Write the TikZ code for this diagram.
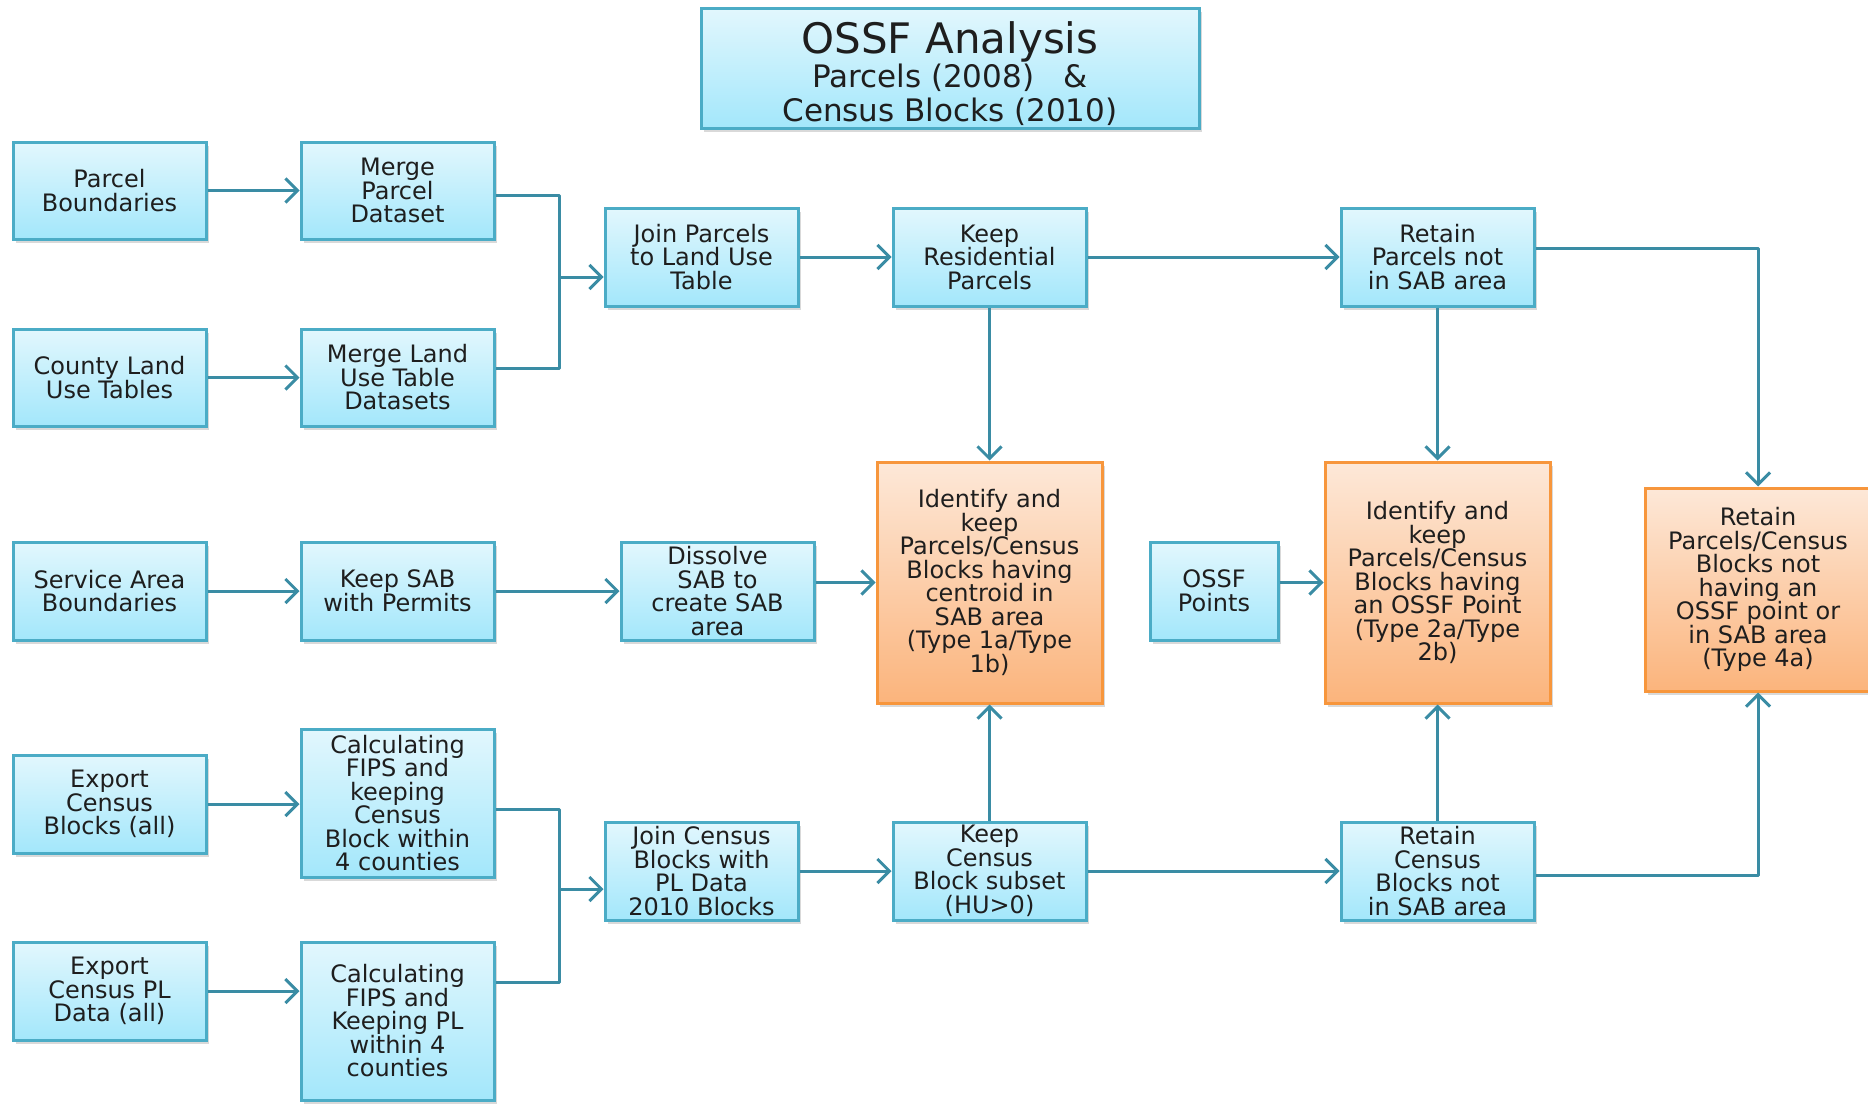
\documentclass[tikz,border=0pt]{standalone}
\usepackage{fontspec}
\setmainfont{DejaVu Sans}
\usetikzlibrary{arrows.meta,shadows}
\definecolor{bluetop}{HTML}{E2F7FD}
\definecolor{bluebot}{HTML}{A3E7FB}
\definecolor{blueline}{HTML}{4BACC6}
\definecolor{orgtop}{HTML}{FDE8D8}
\definecolor{orgbot}{HTML}{FBB47C}
\definecolor{orgline}{HTML}{F7963C}
\definecolor{conncol}{HTML}{3A8CA4}
\definecolor{txt}{HTML}{1E1E1E}
\begin{document}
\begin{tikzpicture}[x=1pt,y=-1pt,
 box/.style={rectangle, line width=3pt, inner sep=0pt, align=center, text=txt,
   font=\fontsize{24}{23.5}\selectfont,
   drop shadow={opacity=0.3, shadow xshift=3pt, shadow yshift=-4pt}},
 bluebox/.style={box, draw=blueline, top color=bluetop, bottom color=bluebot},
 orgbox/.style={box, draw=orgline, top color=orgtop, bottom color=orgbot},
 std/.style={minimum width=193pt, minimum height=97pt},
 conn/.style={draw=conncol, line width=3pt, line join=round},
 arr/.style={conn, -{Straight Barb[length=12pt,width=24pt]}},
 ]
\useasboundingbox (0,0) rectangle (1868,1103);

% title
\node[bluebox, minimum width=498pt, minimum height=120pt,
      font=\fontsize{31}{34}\selectfont] (title) at (950,68)
  {\rule{0pt}{44pt}{\fontsize{42}{42}\selectfont OSSF Analysis}\\Parcels (2008) \ \ \&\\Census Blocks (2010)};

% row 1
\node[bluebox, std] (pb) at (109.5,190.5) {Parcel\\Boundaries};
\node[bluebox, std] (mpd) at (397.5,190.5) {Merge\\Parcel\\Dataset};
\node[bluebox, std] (clut) at (109.5,377.5) {County Land\\Use Tables};
\node[bluebox, std] (mlut) at (397.5,377.5) {Merge Land\\Use Table\\Datasets};
\node[bluebox, std, minimum height=98pt] (jp) at (701.5,257) {Join Parcels\\to Land Use\\Table};
\node[bluebox, std, minimum height=98pt] (kr) at (989.5,257) {Keep\\Residential\\Parcels};
\node[bluebox, std, minimum height=98pt] (rp) at (1437.5,257) {Retain\\Parcels not\\in SAB area};

% middle row
\node[bluebox, std, minimum height=98pt] (sab) at (109.5,591) {Service Area\\Boundaries};
\node[bluebox, std, minimum height=98pt] (ksab) at (397.5,591) {Keep SAB\\with Permits};
\node[bluebox, std, minimum height=98pt] (dis) at (717.5,591) {Dissolve\\SAB to\\create SAB\\area};
\node[orgbox, minimum width=225pt, minimum height=241pt] (id1) at (989.5,582.5)
  {Identify and\\keep\\Parcels/Census\\Blocks having\\centroid in\\SAB area\\(Type 1a/Type\\1b)};
\node[bluebox, minimum width=128pt, minimum height=98pt] (ossf) at (1214,591) {OSSF\\Points};
\node[orgbox, minimum width=225pt, minimum height=241pt] (id2) at (1437.5,582.5)
  {Identify and\\keep\\Parcels/Census\\Blocks having\\an OSSF Point\\(Type 2a/Type\\2b)};
\node[orgbox, minimum width=226pt, minimum height=203pt] (r4) at (1758,589.5)
  {Retain\\Parcels/Census\\Blocks not\\having an\\OSSF point or\\in SAB area\\(Type 4a)};

% bottom rows
\node[bluebox, std, minimum height=98pt] (ec) at (109.5,804) {Export\\Census\\Blocks (all)};
\node[bluebox, minimum width=193pt, minimum height=148pt] (cf1) at (397.5,803)
  {Calculating\\FIPS and\\keeping\\Census\\Block within\\4 counties};
\node[bluebox, std, minimum height=98pt] (epl) at (109.5,991) {Export\\Census PL\\Data (all)};
\node[bluebox, minimum width=193pt, minimum height=158pt] (cf2) at (397.5,1021)
  {Calculating\\FIPS and\\Keeping PL\\within 4\\counties};
\node[bluebox, std, minimum height=98pt] (jc) at (701.5,871) {Join Census\\Blocks with\\PL Data\\2010 Blocks};
\node[bluebox, std, minimum height=98pt] (kc) at (989.5,871) {Keep\\Census\\Block subset\\(HU>0)};
\node[bluebox, std, minimum height=98pt] (rc) at (1437.5,871) {Retain\\Census\\Blocks not\\in SAB area};

% junction coordinates
\coordinate (j1) at (559,277);
\coordinate (j2) at (559,889);

% connectors
\draw[arr] (pb) -- (mpd);
\draw[arr] (clut) -- (mlut);
\draw[conn] ([yshift=-4.5pt]mpd.east) -| (j1) |- ([yshift=9.5pt]mlut.east);
\draw[arr] (j1) -- (jp.west |- j1);
\draw[arr] (jp) -- (kr);
\draw[arr] (kr) -- (rp);
\draw[arr] ([yshift=9pt]rp.east) -| (r4.north);
\draw[arr] (kr) -- (id1);
\draw[arr] (rp) -- (id2);

\draw[arr] (sab) -- (ksab);
\draw[arr] (ksab) -- (dis);
\draw[arr] (dis.east |- id1.west) -- (id1.west);
\draw[arr] (ossf.east |- id2.west) -- (id2.west);

\draw[arr] (ec.east) -- (cf1.west |- ec.east);
\draw[arr] (epl.east) -- (cf2.west |- epl.east);
\draw[conn] ([yshift=-6pt]cf1.east) -| (j2) |- ([yshift=39pt]cf2.east);
\draw[arr] (j2) -- (jc.west |- j2);
\draw[arr] (jc) -- (kc);
\draw[arr] (kc) -- (rc);
\draw[arr] (kc) -- (id1);
\draw[arr] (rc) -- (id2);
\draw[arr] ([yshift=-4pt]rc.east) -| (r4.south);
\end{tikzpicture}
\end{document}
